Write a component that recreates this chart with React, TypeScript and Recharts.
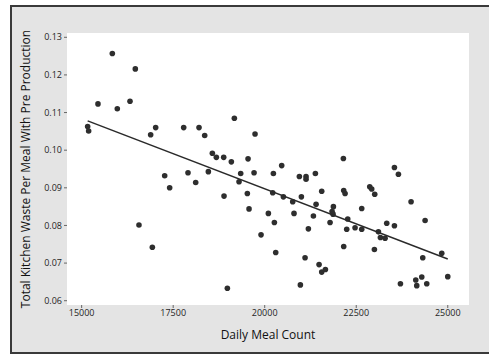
import React from 'react';
import {
  ScatterChart, Scatter, XAxis, YAxis, CartesianGrid,
} from 'recharts';

// Daily meal count vs total kitchen waste per meal
const mealCount = [
  15164, 15191, 15838, 15446, 15974, 16321, 16466, 16566, 16885, 16931,
  17022, 17268, 17404, 17787, 17905, 18115, 18206, 18361, 18461, 18570,
  18679, 18880, 18889, 18980, 19089, 19171, 19299, 19344, 19526, 19545,
  19572, 19709, 19736, 19900, 20100, 20219, 20237, 20264, 20301, 20464,
  20510, 20765, 20801, 20947, 20974, 21002, 21102, 21129, 21129, 21193,
  21330, 21384, 21403, 21485, 21557, 21557, 21658, 21785, 21840, 21876,
  21867, 22149, 22158, 22195, 22158, 22268, 22240, 22468, 22650, 22650,
  22869, 22923, 23005, 22996, 23106, 23160, 23288, 23333, 23543, 23543,
  23652, 23707, 23998, 24126, 24153, 24290, 24317, 24381, 24426, 24836,
  25000,
];
const wastePerMeal = [
  0.1063, 0.1051, 0.1257, 0.1123, 0.1110, 0.1130, 0.1216, 0.0801, 0.1041, 0.0742,
  0.1060, 0.0932, 0.0900, 0.1060, 0.0940, 0.0914, 0.1060, 0.1039, 0.0943, 0.0992,
  0.0981, 0.0981, 0.0878, 0.0633, 0.0969, 0.1085, 0.0916, 0.0938, 0.0885, 0.0977,
  0.0844, 0.0940, 0.1043, 0.0775, 0.0832, 0.0887, 0.0938, 0.0808, 0.0728, 0.0959,
  0.0876, 0.0863, 0.0832, 0.0930, 0.0642, 0.0876, 0.0714, 0.0930, 0.0923, 0.0791,
  0.0825, 0.0938, 0.0856, 0.0696, 0.0891, 0.0676, 0.0683, 0.0808, 0.0837, 0.0850,
  0.0830, 0.0978, 0.0893, 0.0885, 0.0744, 0.0817, 0.0790, 0.0794, 0.0845, 0.0790,
  0.0903, 0.0897, 0.0883, 0.0736, 0.0783, 0.0768, 0.0766, 0.0806, 0.0954, 0.0799,
  0.0936, 0.0645, 0.0863, 0.0655, 0.0640, 0.0663, 0.0714, 0.0813, 0.0645, 0.0726,
  0.0664,
];

// fitted line end points
const fitX = [15164, 25000];
const fitY = [0.1078, 0.0711];

const xTicks = [15000, 17500, 20000, 22500, 25000];
const yTicks = [0.06, 0.07, 0.08, 0.09, 0.10, 0.11, 0.12, 0.13];

const points = mealCount.map((x, i) => ({ x, y: wastePerMeal[i] }));
const fit = fitX.map((x, i) => ({ x, y: fitY[i] }));

const font = '"Open Sans", "Noto Sans", sans-serif';

export default function App() {
  return (
    <div style={{ position: 'absolute', left: 0, top: 0, width: 489, height: 355, background: '#fff', overflow: 'hidden' }}>
      <div
        style={{
          position: 'absolute', left: 10, top: 5, width: 490, height: 345,
          background: '#e4e4e4', border: '2px solid #3a3a3a',
        }}
      />
      <div style={{ position: 'absolute', left: 0, top: 0 }}>
        <ScatterChart width={489} height={355} margin={{ top: 33, right: 20, bottom: 0, left: 0 }}>
          <CartesianGrid fill="#fff" horizontal={false} vertical={false} stroke="none" />
          <XAxis
            type="number"
            dataKey="x"
            domain={[14600, 25580]}
            ticks={xTicks}
            height={50}
            axisLine={false}
            tickLine={{ stroke: '#666' }}
            tickSize={3}
            tick={{ fontSize: 9, fill: '#1e1e1e', fontFamily: font }}
            label={{
              value: 'Daily Meal Count', position: 'insideBottom', offset: 16,
              style: { fontSize: 12, fill: '#111', fontFamily: font },
            }}
          />
          <YAxis
            type="number"
            dataKey="y"
            domain={[0.05886, 0.13114]}
            ticks={yTicks}
            width={67}
            axisLine={false}
            tickLine={{ stroke: '#666' }}
            tickSize={3}
            tickFormatter={(v: number) => v.toFixed(2)}
            tick={{ fontSize: 9, fill: '#1e1e1e', fontFamily: font }}
            label={{
              value: 'Total Kitchen Waste Per Meal With Pre Production', angle: -90,
              position: 'insideLeft', offset: 26,
              style: { fontSize: 12, fill: '#111', fontFamily: font, textAnchor: 'middle' },
            }}
          />
          <Scatter
            data={points}
            isAnimationActive={false}
            shape={(p: any) => <circle cx={p.cx} cy={p.cy} r={2.8} fill="#2e2e2e" />}
          />
          <Scatter
            data={fit}
            isAnimationActive={false}
            line={{ stroke: '#2a2a2a', strokeWidth: 1.5 }}
            shape={() => <g />}
          />
        </ScatterChart>
      </div>
    </div>
  );
}
